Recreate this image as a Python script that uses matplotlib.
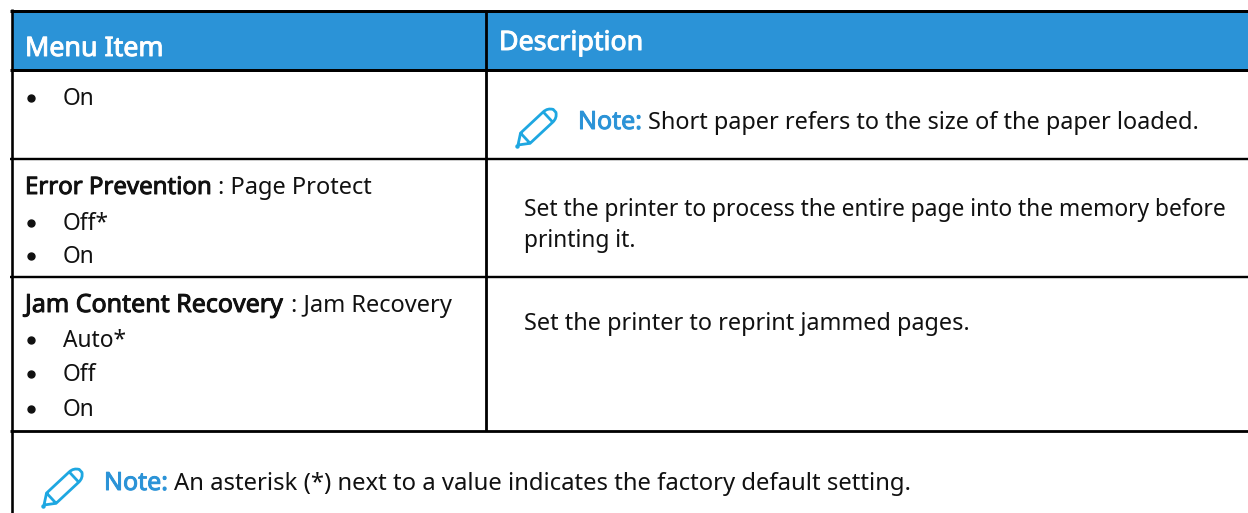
#!/usr/bin/env python3
import numpy as np
import matplotlib
matplotlib.use("Agg")
import matplotlib.pyplot as plt
import matplotlib.patheffects as pe
from matplotlib.patches import Rectangle, PathPatch
from matplotlib.path import Path
from matplotlib.transforms import Affine2D

### Table content ###
headers = ["Menu Item", "Description"]
note_word = "Note:"
short_paper_note = "Short paper refers to the size of the paper loaded."
page_protect = ("Error Prevention", ": Page Protect")
page_protect_values = ["Off*", "On"]
page_protect_desc = ["Set the printer to process the entire page into the memory before",
                     "printing it."]
jam_recovery = ("Jam Content Recovery", ": Jam Recovery")
jam_recovery_values = ["Auto*", "Off", "On"]
jam_recovery_desc = ["Set the printer to reprint jammed pages."]
first_row_values = ["On"]
asterisk_note = "An asterisk (*) next to a value indicates the factory default setting."

### Style ###
BLUE = "#2b93d7"
ICON = "#1ea7e1"
FS = 16.4
plt.rcParams['font.family'] = ['Noto Sans', 'DejaVu Sans']

fig = plt.figure(figsize=(12.48, 5.13), dpi=100)
ax = fig.add_axes([0, 0, 1, 1])
ax.set_xlim(0, 1248)
ax.set_ylim(513, 0)
ax.axis("off")


def label(x, y, s, heavy=0, **kw):
    kw.setdefault("fontsize", FS)
    kw.setdefault("color", "#111111")
    t = ax.text(x, y, s, va="baseline", ha="left", **kw)
    # no bold face is picked up for Noto Sans here, so thicken with a stroke
    if heavy:
        t.set_path_effects([pe.withStroke(linewidth=heavy, foreground=kw["color"])])
    return t


def label_pair(x, y, first, second, gap, first_kw, second_kw):
    t = label(x, y, first, **first_kw)
    box = t.get_window_extent(fig.canvas.get_renderer())
    label(box.x1 + gap, y, second, **second_kw)


def bullets(y_list, values, x_dot=31, x_txt=63):
    for y, v in zip(y_list, values):
        ax.plot([x_dot], [y - 7], 'o', color="#111111", markersize=5)
        label(x_txt, y, v)


def pencil(x, y):
    verts = [(0, 0), (10, -7), (41, -7), (47, -7), (50, -2), (50, 0), (50, 2), (47, 7), (41, 7),
             (10, 7), (0, 0), (10, -7), (10, 7), (41, -7), (41, 7)]
    codes = [Path.MOVETO, Path.LINETO, Path.LINETO, Path.CURVE3, Path.CURVE3, Path.CURVE3, Path.CURVE3,
             Path.CURVE3, Path.CURVE3, Path.LINETO, Path.LINETO, Path.MOVETO, Path.LINETO,
             Path.MOVETO, Path.LINETO]
    tr = Affine2D().rotate_deg(-43).translate(x, y) + ax.transData
    ax.add_patch(PathPatch(Path(verts, codes), fc="none", ec=ICON, lw=2.0, transform=tr))
    ax.plot([x - 1], [y + 1], 'o', color=ICON, markersize=2.2)


### Header band ###
ax.add_patch(Rectangle((12, 11), 1236, 58, fc=BLUE, ec="none"))
header_kw = dict(color="white", fontsize=19.3, heavy=0.7)
label(25, 56, headers[0], **header_kw)
label(499, 50, headers[1], **header_kw)

### Rules ###
for y, lw in [(10.5, 3), (69.5, 3), (159, 2.4), (277, 2.4), (431, 2.8)]:
    ax.plot([10, 1248], [y, y], color="black", lw=lw * 0.72, solid_capstyle="butt")
ax.plot([12.3, 12.3], [9, 513], color="black", lw=2.6 * 0.72, solid_capstyle="butt")
ax.plot([485.5, 485.5], [10, 431], color="black", lw=2.8 * 0.72, solid_capstyle="butt")

### Left column ###
bullets([105], first_row_values)
label_pair(25, 194, page_protect[0], page_protect[1], 6, dict(fontsize=17.3, heavy=0.7), {"fontsize": 17})
bullets([230, 263], page_protect_values)
label_pair(25, 312, jam_recovery[0], jam_recovery[1], 9, dict(fontsize=18, heavy=0.7), {"fontsize": 17})
bullets([347, 381, 416], jam_recovery_values)

### Right column ###
pencil(518, 145)
note_kw = dict(color=BLUE, fontsize=18, heavy=0.7)
label_pair(578, 129, note_word, short_paper_note, 6, note_kw, {"fontsize": 16.95})
for y, line in zip([215.5, 247], page_protect_desc):
    label(524, y, line)
label(524, 330, jam_recovery_desc[0], fontsize=16.9)

### Footer note ###
pencil(44, 505)
label_pair(104, 490, note_word, asterisk_note, 6, note_kw, {"fontsize": 17.2})

fig.savefig("out.png", dpi=100)
